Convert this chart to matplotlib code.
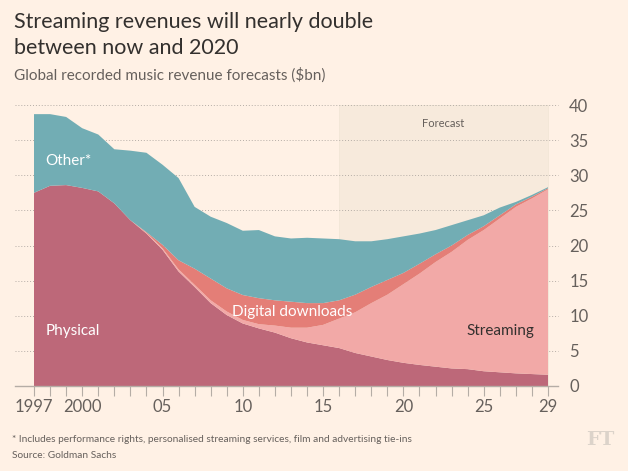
import matplotlib
matplotlib.use("Agg")
import matplotlib.pyplot as plt
import numpy as np

# Global recorded music revenue ($bn)
years = list(range(1997, 2030))
physical = [27.5, 28.5, 28.6, 28.2, 27.7, 26.0, 23.6, 21.7, 19.4, 16.3, 14.1,
            11.8, 10.1, 8.9, 8.2, 7.6, 6.8, 6.2, 5.8, 5.4, 4.7, 4.2, 3.7, 3.3,
            3.0, 2.75, 2.5, 2.4, 2.1, 1.95, 1.8, 1.7, 1.6]
streaming = [0, 0, 0, 0, 0, 0, 0, 0.1, 0.2, 0.3, 0.3, 0.4, 0.5, 0.5, 0.6, 1.0,
             1.5, 2.1, 2.9, 4.2, 5.8, 7.6, 9.3, 11.2, 13.0, 14.9, 16.6, 18.4,
             20.1, 21.9, 23.7, 25.0, 26.4]
downloads = [0, 0, 0, 0, 0, 0, 0, 0.1, 0.5, 1.3, 2.3, 3.1, 3.3, 3.55, 3.7, 3.6,
             3.7, 3.5, 3.1, 2.6, 2.5, 2.3, 2.1, 1.6, 1.4, 1.1, 0.9, 0.7, 0.55,
             0.45, 0.35, 0.25, 0.15]
other = [11.2, 10.2, 9.7, 8.5, 8.1, 7.7, 9.9, 11.3, 11.4, 11.7, 8.8, 8.8, 9.3,
         9.15, 9.7, 9.1, 9.0, 9.3, 9.2, 8.7, 7.6, 6.5, 5.8, 5.2, 4.3, 3.45,
         2.9, 2.1, 1.55, 1.1, 0.35, 0.25, 0.15]

forecast_start = 2016
tick_years = [1997, 2000, 2005, 2010, 2015, 2020, 2025, 2029]
tick_labels = ["1997", "2000", "05", "10", "15", "20", "25", "29"]

bg = "#FFF1E5"
text_dark = "#33302E"
text_grey = "#66605C"

plt.rcParams["font.family"] = ["Lato", "DejaVu Sans"]

fig = plt.figure(figsize=(6.28, 4.71), dpi=100, facecolor=bg)
ax = fig.add_axes([15 / 628, 1 - 386 / 471, 543 / 628, 281 / 471])
ax.set_facecolor(bg)

ax.stackplot(years, physical, streaming, downloads, other,
             colors=["#BD6879", "#F2A9A7", "#E47E77", "#72ADB4"],
             linewidth=0, zorder=2)

# forecast box
ax.axvspan(forecast_start, 2029, ymin=0, ymax=1, facecolor="#F4E8D9", alpha=0.7,
           edgecolor="#EFE3D4", lw=0.6, zorder=0.5)
ax.text((forecast_start + 2029) / 2, 37.3, "Forecast", ha="center", va="center",
        fontsize=8, color=text_grey)

ax.set_xlim(1997 - 19 / 16.06, 2029 + 10 / 16.06)
ax.set_ylim(0, 40)

# dotted grid
for v in range(5, 45, 5):
    ax.axhline(v, color="#B5ADA6", lw=0.7, ls=(0, (1, 2)), zorder=1, clip_on=False)

for s in ["top", "left", "right"]:
    ax.spines[s].set_visible(False)
ax.spines["bottom"].set_color("#B5ADA6")
ax.spines["bottom"].set_linewidth(1)
ax.spines["bottom"].set_zorder(3)

ax.set_xticks(tick_years)
ax.set_xticklabels(tick_labels)
ax.set_xticks(years, minor=True)
ax.tick_params(axis="x", which="both", length=7, color="#B5ADA6", width=0.8,
               direction="out", labelsize=12, labelcolor=text_grey, pad=2)

ax.yaxis.tick_right()
ax.set_yticks(range(0, 45, 5))
ax.tick_params(axis="y", length=0, labelsize=12, labelcolor=text_grey, pad=8)

# series labels
ax.text(1997.7, 32.0, "Other*", color="white", fontsize=11, va="center")
ax.text(1997.7, 7.8, "Physical", color="white", fontsize=11, va="center")
ax.text(2009.3, 10.6, "Digital downloads", color="white", fontsize=11, va="center")
ax.text(2023.9, 7.8, "Streaming", color=text_dark, fontsize=11, va="center")

# titles and notes
fig.text(14 / 628, 1 - 22 / 471, "Streaming revenues will nearly double",
         fontsize=15.5, color=text_dark, va="center")
fig.text(14 / 628, 1 - 48 / 471, "between now and 2020",
         fontsize=15.5, color=text_dark, va="center")
fig.text(14 / 628, 1 - 75 / 471, "Global recorded music revenue forecasts ($bn)",
         fontsize=11, color=text_grey, va="center")
fig.text(12 / 628, 1 - 440 / 471,
         "* Includes performance rights, personalised streaming services, film and advertising tie-ins",
         fontsize=7.3, color=text_grey, va="center")
fig.text(12 / 628, 1 - 456 / 471, "Source: Goldman Sachs",
         fontsize=7.3, color=text_grey, va="center")
fig.text(600 / 628, 1 - 440 / 471, "FT", fontsize=14, color="#DCD3CA",
         family="DejaVu Serif", weight="bold", ha="center", va="center")

fig.savefig("out.png", dpi=100, facecolor=bg)
